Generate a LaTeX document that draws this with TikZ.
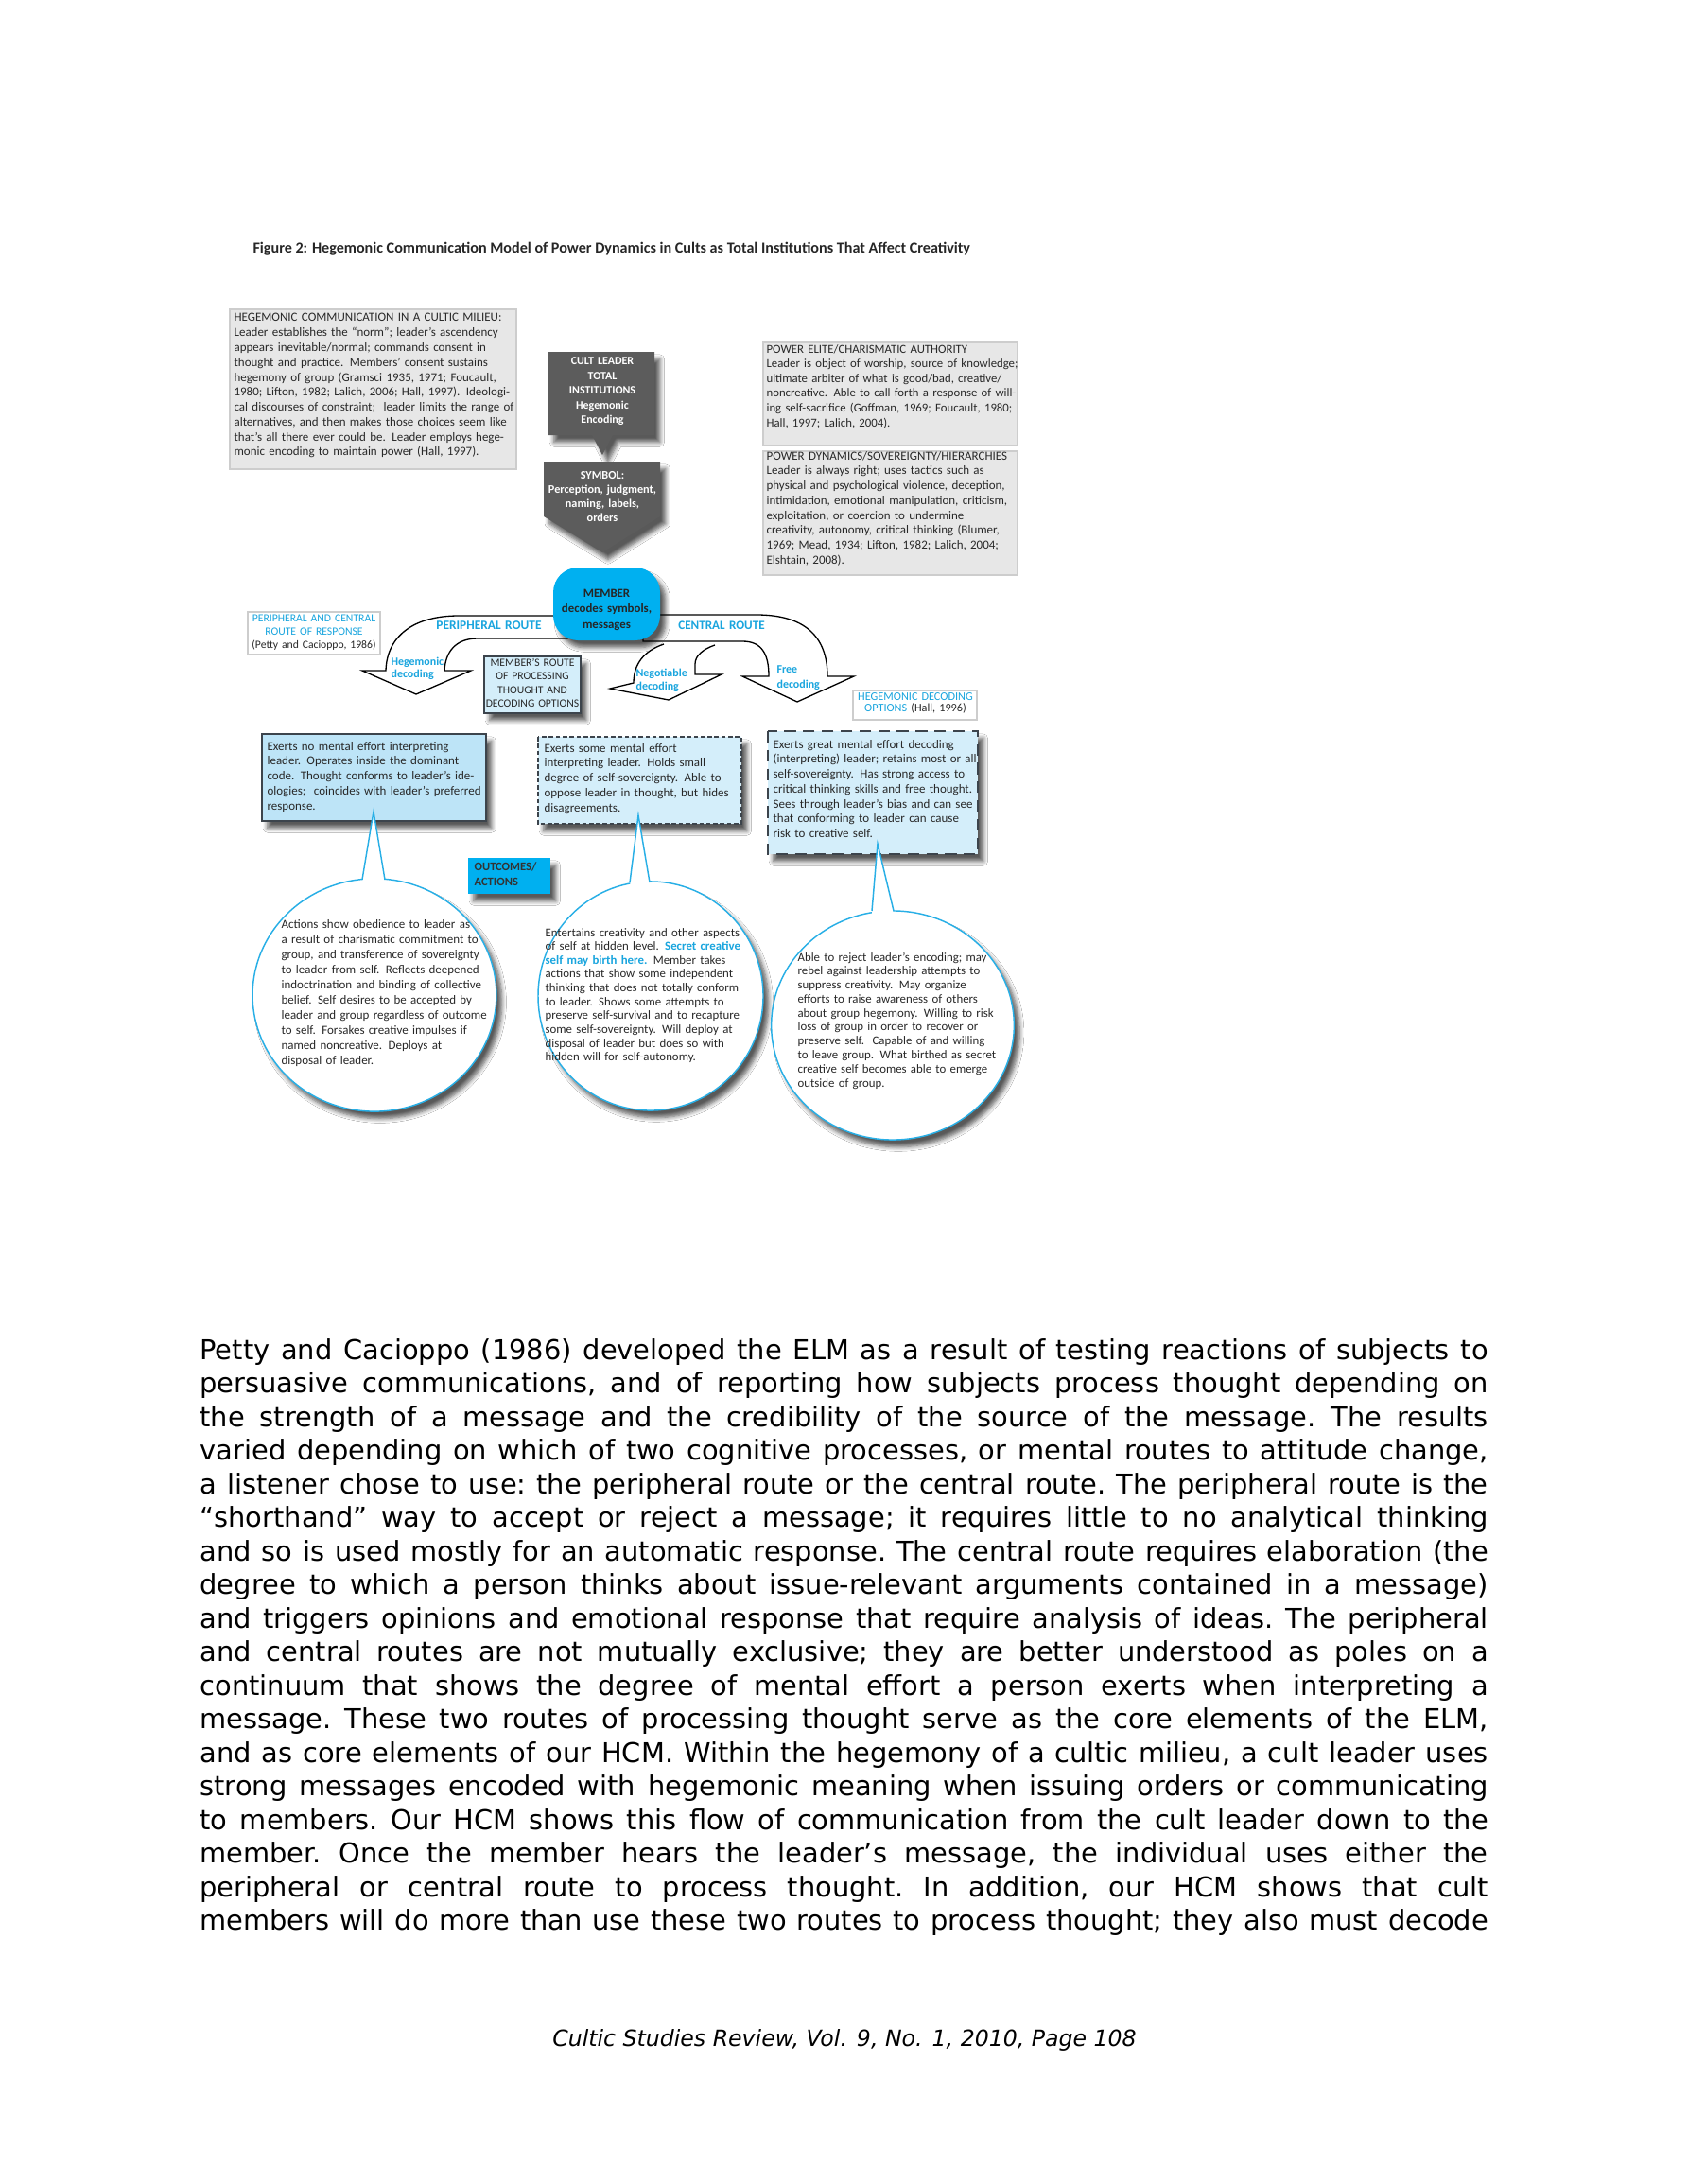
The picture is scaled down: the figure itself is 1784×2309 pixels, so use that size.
\documentclass[tikz,border=0pt]{standalone}
\usepackage{fontspec}
\setmainfont{DejaVu Sans}
\newfontfamily\calfont{Carlito}
\usetikzlibrary{shadows.blur}
\definecolor{cy}{RGB}{0,176,240}
\definecolor{cytext}{RGB}{25,165,222}
\definecolor{dkg}{RGB}{92,92,92}
\definecolor{lgfill}{RGB}{231,231,231}
\definecolor{lgline}{RGB}{205,205,205}
\definecolor{lbA}{RGB}{189,228,247}
\definecolor{lbB}{RGB}{212,238,250}
\definecolor{txt}{RGB}{40,40,40}
\definecolor{callout}{RGB}{40,175,230}
\definecolor{boxline}{RGB}{60,68,76}
\newcommand\fsz[2]{\fontsize{#1}{#2}\selectfont}
\newcommand\bodyline[1]{\hbox to 467pt{#1}}
\tikzset{
  shad/.style={blur shadow={shadow xshift=2pt, shadow yshift=-2.6pt, shadow blur radius=1.6pt, shadow blur steps=6, shadow opacity=65}},
  ftext/.style={inner sep=0pt, anchor=base west, text width=130pt, align=left, text=txt},
  ctext/.style={inner sep=0pt, anchor=base, text width=80pt, align=center},
  routearrow/.style={draw=black, fill=white, line width=0.45pt},
  callline/.style={draw=callout, line width=0.5pt},
  circ/.style={draw=callout, fill=white, line width=0.5pt, shad},
}
\begin{document}
\begin{tikzpicture}[x=0.342857pt,y=-0.342857pt]
\useasboundingbox (0,0) rectangle (1784,2309);
\fill[white] (0,0) rectangle (1784,2309);

% title
\node[inner sep=0pt, anchor=base west, font=\calfont\bfseries\fsz{5.53pt}{6pt}, text=black!85] (title) at (267,268)
 {Figure 2: Hegemonic Communication Model of Power Dynamics in Cults as Total Institutions That Affect Creativity};

% top-left grey box
\draw[fill=lgfill, draw=lgline, line width=0.5pt] (243,327) rectangle (546,496);
\node[ftext, font=\calfont\fsz{4.45pt}{5.4pt}] (hegcomm) at (247,340) {HEGEMONIC COMMUNICATION IN A CULTIC MILIEU:\\
Leader establishes the “norm”; leader’s ascendency\\
appears inevitable/normal; commands consent in\\
thought and practice. Members’ consent sustains\\
hegemony of group (Gramsci 1935, 1971; Foucault,\\
1980; Lifton, 1982; Lalich, 2006; Hall, 1997). Ideologi-\\
cal discourses of constraint;\ \ leader limits the range of\\
alternatives, and then makes those choices seem like\\
that’s all there ever could be. Leader employs hege-\\
monic encoding to maintain power (Hall, 1997).};

% right grey boxes
\draw[fill=lgfill, draw=lgline, line width=0.5pt] (807,362) rectangle (1076,471);
\node[ftext, font=\calfont\fsz{4.38pt}{5.35pt}] (elite) at (810,373) {POWER ELITE/CHARISMATIC AUTHORITY\\
Leader is object of worship, source of knowledge;\\
ultimate arbiter of what is good/bad, creative/\\
noncreative. Able to call forth a response of will-\\
ing self-sacrifice (Goffman, 1969; Foucault, 1980;\\
Hall, 1997; Lalich, 2004).};
\draw[fill=lgfill, draw=lgline, line width=0.5pt] (807,477) rectangle (1076,608);
\node[ftext, font=\calfont\fsz{4.45pt}{5.4pt}] (dyn) at (810,486) {POWER DYNAMICS/SOVEREIGNTY/HIERARCHIES\\
Leader is always right; uses tactics such as\\
physical and psychological violence, deception,\\
intimidation, emotional manipulation, criticism,\\
exploitation, or coercion to undermine\\
creativity, autonomy, critical thinking (Blumer,\\
1969; Mead, 1934; Lifton, 1982; Lalich, 2004;\\
Elshtain, 2008).};

% cult leader callout
\fill[dkg, shad] (580,372) -- (692,372) -- (692,460) -- (648,460) -- (637,481) -- (626,460) -- (580,460) -- cycle;
\node[ctext, font=\calfont\bfseries\fsz{4.1pt}{5.3pt}, text=white] (leader) at (637,386)
 {CULT LEADER\\TOTAL\\INSTITUTIONS\\Hegemonic\\Encoding};

% symbol arrow
\fill[dkg, shad] (575,488) -- (698,488) -- (698,546) -- (637,584) -- (575,546) -- cycle;
\node[ctext, font=\calfont\bfseries\fsz{4.2pt}{5.15pt}, text=white] (symbol) at (637,506)
 {SYMBOL:\\Perception, judgment,\\naming, labels,\\orders};

% route arrows
\draw[routearrow] (600,651) -- (485,651) .. controls (438,651) and (409,672) .. (408,709)
  -- (383,709) -- (440,734) -- (498,709) -- (470,709)
  .. controls (471,690) and (481,675) .. (505,675) -- (600,675) -- cycle;
\draw[routearrow] (680,650) -- (800,650) .. controls (850,650) and (875,672) .. (875,715)
  -- (903,715) -- (843,742) -- (785,715) -- (813,715)
  .. controls (813,692) and (806,678) .. (785,678) -- (680,678) -- cycle;
\draw[routearrow] (702,681) .. controls (681,688) and (670,702) .. (670,722)
  -- (645,728) -- (707,740) -- (763,713) -- (735,713) -- (735,702)
  .. controls (735,693) and (744,686) .. (756,682);

% member box
\fill[cy, rounded corners=9pt, shad] (585,600) rectangle (698,677);
\node[ctext, font=\calfont\bfseries\fsz{4.4pt}{5.8pt}, text=black!85] (member) at (641.5,631)
 {MEMBER\\decodes symbols,\\messages};

% route labels
\node[ctext, font=\calfont\bfseries\fsz{4.6pt}{5pt}, text=cytext] (perlab) at (517,665) {PERIPHERAL ROUTE};
\node[ctext, font=\calfont\bfseries\fsz{4.5pt}{5pt}, text=cytext] (cenlab) at (763,665) {CENTRAL ROUTE};
\node[ftext, font=\calfont\bfseries\fsz{4.1pt}{4.5pt}, text=cytext] (hegdec) at (413,703) {Hegemonic\\decoding};
\node[ftext, font=\calfont\bfseries\fsz{4.1pt}{4.8pt}, text=cytext] (negdec) at (672,715) {Negotiable\\decoding};
\node[ftext, font=\calfont\bfseries\fsz{4.1pt}{5.8pt}, text=cytext] (freedec) at (821,711) {Free\\decoding};

% peripheral and central info box
\draw[fill=white, draw=lgline, line width=0.5pt] (262,647) rectangle (402,692);
\node[ctext, font=\calfont\fsz{4pt}{4.8pt}] (pcroute) at (332,657)
 {\textcolor{cytext}{PERIPHERAL AND CENTRAL}\\\textcolor{cytext}{ROUTE OF RESPONSE}\\\textcolor{txt}{(Petty and Cacioppo, 1986)}};

% member's route box
\draw[fill=lbB, draw=boxline, line width=0.6pt, shad] (512,694) rectangle (614,754);
\node[ctext, font=\calfont\fsz{4pt}{5pt}, text=txt] (mroute) at (563,704)
 {MEMBER’S ROUTE\\OF PROCESSING\\THOUGHT AND\\DECODING OPTIONS};

% hegemonic decoding options box
\draw[fill=white, draw=lgline, line width=0.5pt] (902,730) rectangle (1033,761);
\node[ctext, font=\calfont\fsz{4.2pt}{4.3pt}] (hdo) at (968,740)
 {\textcolor{cytext}{HEGEMONIC DECODING}\\\textcolor{cytext}{OPTIONS} \textcolor{txt}{(Hall, 1996)}};

% three decoding boxes
\draw[fill=lbA, draw=boxline, line width=0.7pt, shad] (277,776) rectangle (514,868);
\node[ftext, font=\calfont\fsz{4.45pt}{5.4pt}] (boxA) at (282,793) {Exerts no mental effort interpreting\\
leader. Operates inside the dominant\\
code. Thought conforms to leader’s ide-\\
ologies;\ \ coincides with leader’s preferred\\
response.};
\draw[fill=lbB, draw=boxline, line width=0.6pt, dash pattern=on 1.6pt off 0.9pt, shad] (569,779) rectangle (784,871);
\node[ftext, font=\calfont\fsz{4.45pt}{5.4pt}] (boxB) at (575,795) {Exerts some mental effort\\
interpreting leader. Holds small\\
degree of self-sovereignty. Able to\\
oppose leader in thought, but hides\\
disagreements.};
\draw[fill=lbB, draw=boxline, line width=0.7pt, dash pattern=on 4.2pt off 2.6pt, shad] (812,773) rectangle (1034,903);
\node[ftext, font=\calfont\fsz{4.45pt}{5.4pt}] (boxC) at (817,791) {Exerts great mental effort decoding\\
(interpreting) leader; retains most or all\\
self-sovereignty. Has strong access to\\
critical thinking skills and free thought.\\
Sees through leader’s bias and can see\\
that conforming to leader can cause\\
risk to creative self.};

% outcomes box
\fill[cy, shad] (495,907) rectangle (582,945);
\node[ftext, font=\calfont\bfseries\fsz{4.3pt}{5.5pt}, text=black!80] (outc) at (501,920) {OUTCOMES/\\ACTIONS};

% circles
\path[circ] (396,1052) ellipse [x radius=44.2pt, y radius=42.2pt];
\path[circ] (688,1053) ellipse [x radius=40.8pt, y radius=41.5pt];
\path[circ] (944,1084) ellipse [x radius=44pt, y radius=41.5pt];

% callouts
\fill[white] (383,933) -- (395,858) -- (407,933) -- cycle;
\draw[callline] (383,930) -- (395,858) -- (407,930);
\fill[white] (666,937) -- (675,862) -- (687,937) -- cycle;
\draw[callline] (666,933) -- (675,862) -- (687,933);
\fill[white] (922,967) -- (928,892) -- (945,967) -- cycle;
\draw[callline] (922,963) -- (928,892) -- (945,963);

% circle texts
\node[ftext, font=\calfont\fsz{4.45pt}{5.5pt}] (circA) at (297,981) {Actions show obedience to leader as\\
a result of charismatic commitment to\\
group, and transference of sovereignty\\
to leader from self. Reflects deepened\\
indoctrination and binding of collective\\
belief. Self desires to be accepted by\\
leader and group regardless of outcome\\
to self. Forsakes creative impulses if\\
named noncreative. Deploys at\\
disposal of leader.};
\node[ftext, font=\calfont\fsz{4.4pt}{5.02pt}] (circB) at (576,990) {Entertains creativity and other aspects\\
of self at hidden level. \textcolor{cytext}{\bfseries Secret creative}\\
\textcolor{cytext}{\bfseries self may birth here.} Member takes\\
actions that show some independent\\
thinking that does not totally conform\\
to leader. Shows some attempts to\\
preserve self-survival and to recapture\\
some self-sovereignty. Will deploy at\\
disposal of leader but does so with\\
hidden will for self-autonomy.};
\node[ftext, font=\calfont\fsz{4.4pt}{5.07pt}] (circC) at (843,1016) {Able to reject leader’s encoding; may\\
rebel against leadership attempts to\\
suppress creativity. May organize\\
efforts to raise awareness of others\\
about group hegemony. Willing to risk\\
loss of group in order to recover or\\
preserve self.\ \ Capable of and willing\\
to leave group. What birthed as secret\\
creative self becomes able to emerge\\
outside of group.};

% body text
\node[inner sep=0pt, anchor=base west, text width=467pt, font=\fsz{9.9pt}{12.18pt}, text=black] (body) at (211,1437) {\setlength\parindent{0pt}\frenchspacing
\spaceskip=0.318em plus 0.6em minus 0.06em\relax
\xspaceskip=\spaceskip
\bodyline{Petty and Cacioppo (1986) developed the ELM as a result of testing reactions of subjects to}
\bodyline{persuasive communications, and of reporting how subjects process thought depending on}
\bodyline{the strength of a message and the credibility of the source of the message. The results}
\bodyline{varied depending on which of two cognitive processes, or mental routes to attitude change,}
\bodyline{a listener chose to use: the peripheral route or the central route. The peripheral route is the}
\bodyline{“shorthand” way to accept or reject a message; it requires little to no analytical thinking}
\bodyline{and so is used mostly for an automatic response. The central route requires elaboration (the}
\bodyline{degree to which a person thinks about issue-relevant arguments contained in a message)}
\bodyline{and triggers opinions and emotional response that require analysis of ideas. The peripheral}
\bodyline{and central routes are not mutually exclusive; they are better understood as poles on a}
\bodyline{continuum that shows the degree of mental effort a person exerts when interpreting a}
\bodyline{message. These two routes of processing thought serve as the core elements of the ELM,}
\bodyline{and as core elements of our HCM. Within the hegemony of a cultic milieu, a cult leader uses}
\bodyline{strong messages encoded with hegemonic meaning when issuing orders or communicating}
\bodyline{to members. Our HCM shows this flow of communication from the cult leader down to the}
\bodyline{member. Once the member hears the leader’s message, the individual uses either the}
\bodyline{peripheral or central route to process thought. In addition, our HCM shows that cult}
\bodyline{members will do more than use these two routes to process thought; they also must decode}};

% footer
\node[inner sep=0pt, anchor=base, font=\itshape\fsz{8.1pt}{10pt}, text=black] (footer) at (893,2163)
 {Cultic Studies Review, Vol. 9, No. 1, 2010, Page 108};
\end{tikzpicture}
\end{document}
